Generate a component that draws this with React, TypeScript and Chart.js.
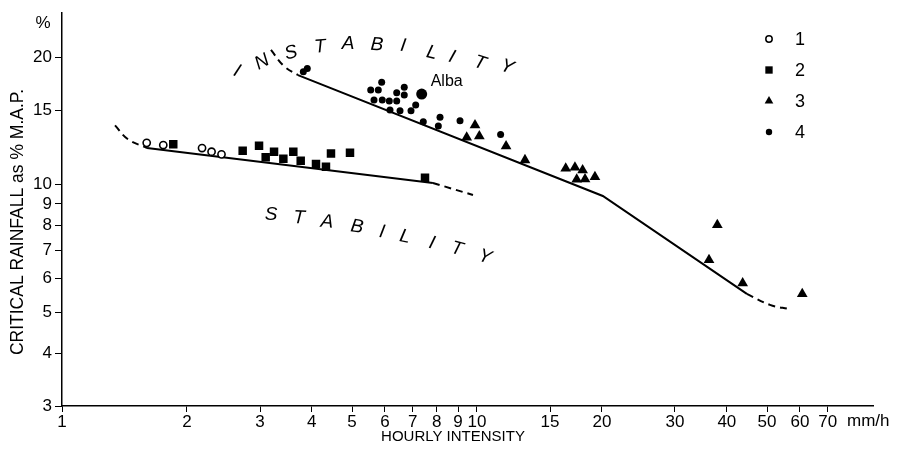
import { useEffect, useRef } from "react";
import { Chart, registerables } from "chart.js";
import { drawPoint } from "chart.js/helpers";

Chart.register(...registerables);

const FONT = "'Liberation Sans', Arial, sans-serif";

// Axis ticks
const xTicks = [1, 2, 3, 4, 5, 6, 7, 8, 9, 10, 15, 20, 30, 40, 50, 60, 70];
const yTicks = [3, 4, 5, 6, 7, 8, 9, 10, 15, 20];

// Observations: hourly intensity (mm/h) vs critical rainfall (% M.A.P.)
const group1X = [1.6, 1.754, 2.175, 2.293, 2.423];
const group1Y = [12.55, 12.4, 12.2, 11.96, 11.79];

const group2X = [1.854, 2.725, 2.984, 3.096, 3.243, 3.415, 3.609, 3.76, 4.093, 4.326, 4.448, 4.943, 7.494];
const group2Y = [12.45, 12.02, 12.35, 11.6, 11.96, 11.51, 11.96, 11.39, 11.18, 11.02, 11.85, 11.89, 10.38];

const group3X = [9.89, 9.445, 10.13, 11.75, 13.05, 16.36, 17.22, 17.97, 19.24, 17.39, 18.21, 37.94, 36.23, 43.67, 60.78];
const group3Y = [13.82, 12.93, 13.02, 12.33, 11.43, 10.92, 10.98, 10.82, 10.43, 10.29, 10.3, 8.03, 6.64, 5.85, 5.52];

const group4X = [3.815, 3.9, 5.545, 5.783, 5.893, 5.647, 5.912, 6.147, 6.405, 6.679, 6.679, 6.405, 6.171, 6.524, 6.934, 7.117, 7.423, 8.069, 8.145, 9.101, 11.4];
const group4Y = [18.47, 18.81, 16.72, 16.72, 17.44, 15.84, 15.84, 15.75, 16.48, 16.97, 16.27, 15.75, 15.0, 14.94, 14.94, 15.41, 14.08, 13.75, 14.42, 14.15, 13.14];

// Alba event (group 4, highlighted)
const albaX = [7.357];
const albaY = [16.36];

// Threshold curves
const stabilityDashStartX = [1.342, 1.442, 1.603];
const stabilityDashStartY = [13.8, 12.8, 12.2];
const stabilitySolidX = [1.603, 7.83];
const stabilitySolidY = [12.2, 10.09];
const stabilityDashEndX = [7.83, 9.78];
const stabilityDashEndY = [10.09, 9.45];

const instabilityDashStartX = [3.188, 3.427, 3.704];
const instabilityDashStartY = [20.8, 19.05, 18.14];
const instabilitySolidX = [3.704, 20.1, 44.7];
const instabilitySolidY = [18.14, 9.4, 5.52];
const instabilityDashEndX = [44.7, 50.8, 56.8];
const instabilityDashEndY = [5.52, 5.2, 5.08];

const legendLabels = ["1", "2", "3", "4"];

const pts = (xs: number[], ys: number[]) => xs.map((x, i) => ({ x, y: ys[i] }));

// Region captions, letter by letter along their arcs
const upperWord = [
  { ch: "I", x: 237, y: 71, rot: 22 },
  { ch: "N", x: 262, y: 62, rot: -28 },
  { ch: "S", x: 291, y: 53, rot: -15 },
  { ch: "T", x: 320, y: 47, rot: -5 },
  { ch: "A", x: 348, y: 44, rot: 0 },
  { ch: "B", x: 377, y: 45, rot: 4 },
  { ch: "I", x: 403, y: 46, rot: 8 },
  { ch: "L", x: 432, y: 53, rot: 14 },
  { ch: "I", x: 452, y: 57, rot: 18 },
  { ch: "T", x: 480, y: 63, rot: 18 },
  { ch: "Y", x: 507, y: 67, rot: 20 },
];
const lowerWord = [
  { ch: "S", x: 271, y: 215, rot: 0 },
  { ch: "T", x: 299, y: 218, rot: 3 },
  { ch: "A", x: 327, y: 222, rot: 5 },
  { ch: "B", x: 357, y: 227, rot: 8 },
  { ch: "I", x: 382, y: 232, rot: 10 },
  { ch: "L", x: 405, y: 237, rot: 12 },
  { ch: "I", x: 432, y: 243, rot: 15 },
  { ch: "T", x: 457, y: 249, rot: 15 },
  { ch: "Y", x: 485, y: 257, rot: 18 },
];

const legendMarkers = [
  { pointStyle: "circle", radius: 3.2, fill: "#fff", borderWidth: 1.5 },
  { pointStyle: "rect", radius: 5.2, fill: "#000", borderWidth: 0 },
  { pointStyle: "triangle", radius: 5, fill: "#000", borderWidth: 0 },
  { pointStyle: "circle", radius: 3.2, fill: "#000", borderWidth: 0 },
];

const annotate = {
  id: "annotate",
  afterDatasetsDraw(chart: any) {
    const { ctx, scales } = chart;
    ctx.save();
    ctx.fillStyle = "#000";
    ctx.textAlign = "center";
    ctx.textBaseline = "middle";

    // axis titles
    ctx.font = `17.5px ${FONT}`;
    ctx.save();
    ctx.translate(18, 222);
    ctx.rotate(-Math.PI / 2);
    ctx.fillText("CRITICAL RAINFALL as % M.A.P.", 0, 0);
    ctx.restore();
    ctx.font = `15px ${FONT}`;
    ctx.fillText("HOURLY INTENSITY", 453, 437);

    // units
    ctx.font = `17px ${FONT}`;
    ctx.fillText("%", 43, 23);
    ctx.textAlign = "left";
    ctx.fillText("mm/h", 847, 421);

    // region captions
    ctx.textAlign = "center";
    ctx.font = `italic 19px ${FONT}`;
    for (const l of [...upperWord, ...lowerWord]) {
      ctx.save();
      ctx.translate(l.x, l.y);
      ctx.rotate((l.rot * Math.PI) / 180);
      ctx.fillText(l.ch, 0, 0);
      ctx.restore();
    }

    // Alba label next to its point
    ctx.font = `16px ${FONT}`;
    ctx.textAlign = "left";
    const ax = scales.x.getPixelForValue(albaX[0]);
    const ay = scales.y.getPixelForValue(albaY[0]);
    ctx.fillText("Alba", ax + 9, ay - 12);

    // legend
    ctx.font = `18px ${FONT}`;
    legendLabels.forEach((label, i) => {
      const m = legendMarkers[i];
      const y = 39 + i * 31;
      ctx.fillStyle = m.fill;
      ctx.strokeStyle = "#000";
      ctx.lineWidth = m.borderWidth || 1;
      drawPoint(ctx, { pointStyle: m.pointStyle as any, radius: m.radius, rotation: 0, borderWidth: m.borderWidth }, 769, y);
      ctx.fillStyle = "#000";
      ctx.fillText(label, 795, y + 1);
    });
    ctx.restore();
  },
};

export default function App() {
  const canvasRef = useRef<HTMLCanvasElement | null>(null);

  useEffect(() => {
    if (!canvasRef.current) return;
    const lineStyle = {
      type: "line" as const,
      borderColor: "#000",
      borderWidth: 2,
      pointRadius: 0,
      fill: false,
      order: 10,
    };
    const dash = [7, 5];
    const chart = new Chart(canvasRef.current, {
      type: "scatter",
      data: {
        datasets: [
          {
            label: "1",
            data: pts(group1X, group1Y),
            pointStyle: "circle",
            pointRadius: 3.6,
            backgroundColor: "#fff",
            borderColor: "#000",
            borderWidth: 1.6,
            order: 1,
          },
          {
            label: "2",
            data: pts(group2X, group2Y),
            pointStyle: "rect",
            pointRadius: 6,
            backgroundColor: "#000",
            borderColor: "#000",
            borderWidth: 0,
            order: 1,
          },
          {
            label: "3",
            data: pts(group3X, group3Y),
            pointStyle: "triangle",
            pointRadius: 6.2,
            backgroundColor: "#000",
            borderColor: "#000",
            borderWidth: 0,
            order: 1,
          },
          {
            label: "4",
            data: pts(group4X, group4Y),
            pointStyle: "circle",
            pointRadius: 3.5,
            backgroundColor: "#000",
            borderColor: "#000",
            borderWidth: 0,
            order: 1,
          },
          {
            label: "Alba",
            data: pts(albaX, albaY),
            pointStyle: "circle",
            pointRadius: 5.5,
            backgroundColor: "#000",
            borderColor: "#000",
            borderWidth: 0,
            order: 1,
          },
          { ...lineStyle, label: "s1", data: pts(stabilityDashStartX, stabilityDashStartY), borderDash: dash, tension: 0.4 },
          { ...lineStyle, label: "s2", data: pts(stabilitySolidX, stabilitySolidY) },
          { ...lineStyle, label: "s3", data: pts(stabilityDashEndX, stabilityDashEndY), borderDash: dash },
          { ...lineStyle, label: "i1", data: pts(instabilityDashStartX, instabilityDashStartY), borderDash: dash, tension: 0.4 },
          { ...lineStyle, label: "i2", data: pts(instabilitySolidX, instabilitySolidY) },
          { ...lineStyle, label: "i3", data: pts(instabilityDashEndX, instabilityDashEndY), borderDash: dash, tension: 0.4 },
        ] as any,
      },
      options: {
        animation: false,
        responsive: false,
        maintainAspectRatio: false,
        layout: { padding: { top: 13, right: 24, left: 0, bottom: 0 } },
        plugins: {
          legend: { display: false },
          tooltip: { enabled: false },
        },
        scales: {
          x: {
            type: "logarithmic",
            min: 1,
            max: 90,
            afterBuildTicks: (scale: any) => {
              scale.ticks = xTicks.map((v) => ({ value: v }));
            },
            afterFit: (scale: any) => {
              scale.height = 63;
            },
            grid: { drawOnChartArea: false, drawTicks: true, tickLength: 6, color: "#000", lineWidth: 1 },
            border: { color: "#000", width: 1.5 },
            ticks: {
              autoSkip: false,
              maxRotation: 0,
              padding: 0,
              color: "#000",
              font: { family: FONT, size: 17 },
              callback: (v: any) => String(v),
            },
          },
          y: {
            type: "logarithmic",
            min: 3,
            max: 25.4,
            afterBuildTicks: (scale: any) => {
              scale.ticks = yTicks.map((v) => ({ value: v }));
            },
            afterFit: (scale: any) => {
              scale.width = 62;
            },
            grid: { drawOnChartArea: false, drawTicks: true, tickLength: 7, color: "#000", lineWidth: 1 },
            border: { color: "#000", width: 1.5 },
            ticks: {
              autoSkip: false,
              padding: 3,
              color: "#000",
              font: { family: FONT, size: 17 },
              callback: (v: any) => String(v),
            },
          },
        },
      } as any,
      plugins: [annotate],
    });
    return () => chart.destroy();
  }, []);

  return (
    <div style={{ position: "absolute", left: 0, top: 0, width: 897, height: 469, background: "#fff" }}>
      <canvas ref={canvasRef} width={897} height={469} />
    </div>
  );
}
